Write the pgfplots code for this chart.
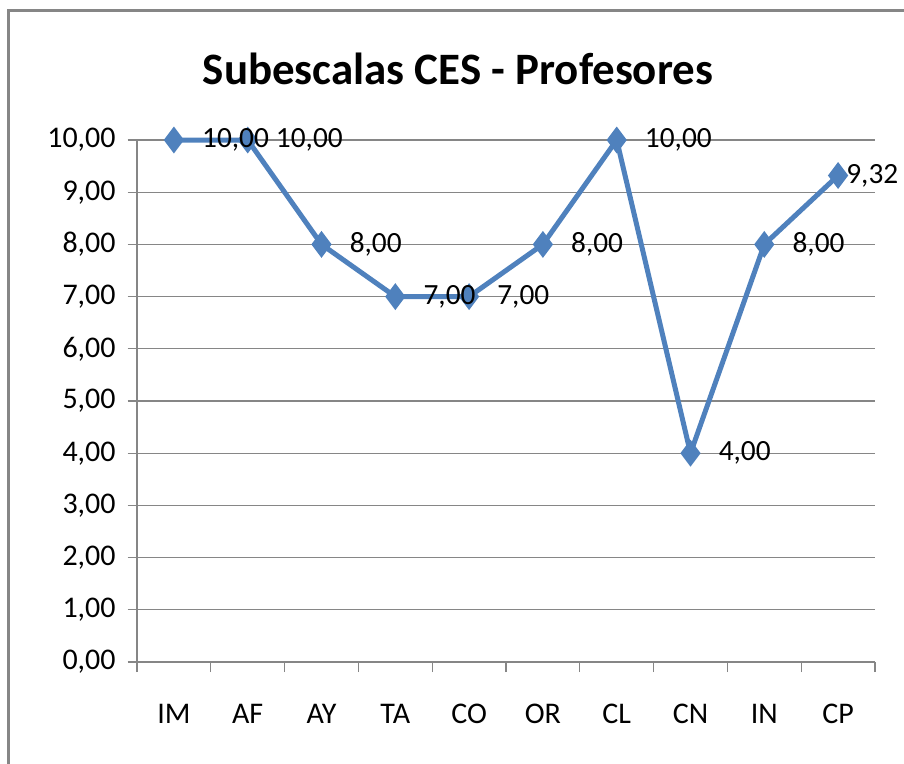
\documentclass[border=0pt]{standalone}
\usepackage{pgfplots}
\pgfplotsset{compat=1.18}
\usepackage{fontspec}
\setmainfont{Carlito}
\definecolor{serie}{HTML}{4F81BD}
\definecolor{grid}{HTML}{868686}
\begin{document}
\begin{tikzpicture}
\path[use as bounding box] (0,0) rectangle (678pt,-573pt);
\draw[grid, line width=1.6pt] (6.4pt,-600pt) -- (6.4pt,-7.9pt) -- (700pt,-7.9pt);
\node[font=\fontsize{33.7}{38}\selectfont\bfseries] at (343.5pt,-52pt) {Subescalas CES - Profesores};
\begin{axis}[
  at={(102.75pt,-496.5pt)}, anchor=south west,
  scale only axis, width=553.5pt, height=391.5pt,
  xmin=-0.5, xmax=9.5, ymin=0, ymax=10,
  axis x line*=bottom, axis y line*=left,
  axis line style={grid, line width=1pt},
  ytick={0,1,...,10},
  ymajorgrids, xmajorgrids=false, xminorgrids=false,
  y grid style={grid, line width=1pt},
  xtick={0,...,9},
  xticklabels={IM,AF,AY,TA,CO,OR,CL,CN,IN,CP},
  major x tick style={draw=none},
  minor xtick={-0.5,0.5,...,9.5},
  minor x tick style={grid, line width=1pt},
  y tick style={grid, line width=1pt},
  tick align=outside,
  major tick length=7pt, minor tick length=7.5pt,
  ticklabel style={font=\fontsize{22.5}{27}\selectfont},
  xticklabel style={yshift=-21pt},
  yticklabel style={xshift=-5.5pt},
  /pgf/number format/assume math mode=true,
  yticklabel={\pgfmathprintnumber[fixed,fixed zerofill,precision=2,use comma]{\tick}},
  clip=false,
]
\addplot[serie, line width=3.75pt, mark=diamond*, mark size=7pt, mark options={solid}] coordinates {
 (0,10) (1,10) (2,8) (3,7) (4,7) (5,8) (6,10) (7,4) (8,8) (9,9.32)};
\addplot[draw=none, mark=none, point meta=y,
  nodes near coords={\pgfmathprintnumber[fixed,fixed zerofill,precision=2,use comma]{\pgfplotspointmeta}},
  nodes near coords style={anchor=west, xshift=21pt, yshift=0pt, inner sep=0pt, text=black, font=\fontsize{22}{27}\selectfont}]
 coordinates {(0,10) (1,10) (2,8) (3,7) (4,7) (5,8) (6,10) (7,4) (8,8)};
\addplot[draw=none, mark=none, point meta=y,
  nodes near coords={\pgfmathprintnumber[fixed,fixed zerofill,precision=2,use comma]{\pgfplotspointmeta}},
  nodes near coords style={anchor=west, xshift=6pt, inner sep=0pt, text=black, font=\fontsize{22}{27}\selectfont}]
 coordinates {(9,9.32)};
\end{axis}
\end{tikzpicture}
\end{document}
